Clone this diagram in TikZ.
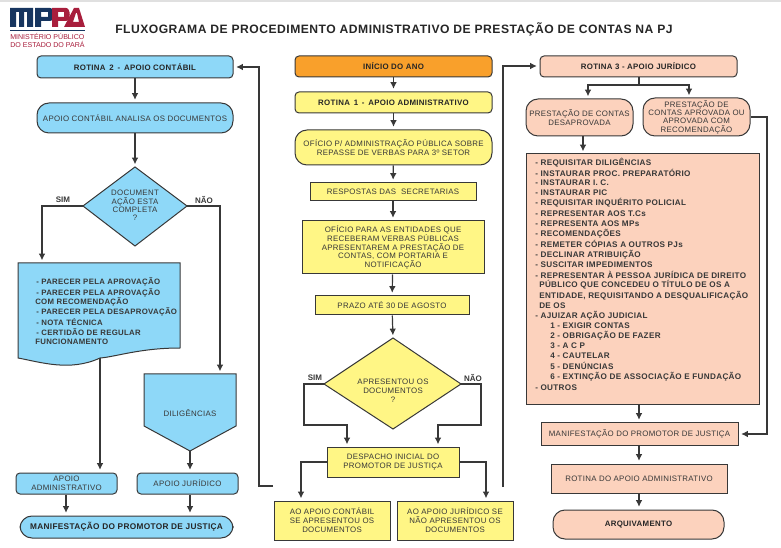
\documentclass[tikz,border=0pt]{standalone}
\usepackage{fontspec}
\setmainfont{Liberation Sans}
\newfontfamily\spc[LetterSpace=4]{Liberation Sans}
\newfontfamily\ttl[LetterSpace=4]{Liberation Sans}
\usetikzlibrary{arrows.meta}
\definecolor{blu}{HTML}{8ED8F8}
\definecolor{yel}{HTML}{FFF685}
\definecolor{ora}{HTML}{F9A02B}
\definecolor{pch}{HTML}{FCD2BD}
\definecolor{ink}{HTML}{383838}
\definecolor{dark}{HTML}{262626}
\definecolor{navy}{HTML}{17355F}
\definecolor{crim}{HTML}{A81E3C}
\tikzset{
  box/.style={draw=ink,line width=.75pt,inner sep=0pt,align=center,text=ink,font=\spc\fontsize{5.9}{6.7}\selectfont},
  rbox/.style={box,rounded corners=3pt},
  pill/.style={box,rounded corners=9pt},
  hd/.style={font=\spc\bfseries\fontsize{5.9}{6.7}\selectfont,text=dark},
  conn/.style={draw=ink,line width=.9pt},
  arr/.style={conn,-{Latex[length=5pt,width=5pt]},shorten >=2pt},
  lab/.style={text=ink,font=\bfseries\fontsize{6}{7}\selectfont,inner sep=0pt},
  txt/.style={text=ink,inner sep=0pt,align=center,font=\spc\fontsize{5.9}{6.7}\selectfont},
  lst/.style={text=ink,inner sep=0pt,anchor=west,font=\spc\bfseries\fontsize{5.85}{6.7}\selectfont},
  lsr/.style={lst,font=\spc\bfseries\fontsize{6.1}{6.7}\selectfont},
}
\newcommand{\bx}[8][box]{\node[#1,fill=#2,minimum width=#5*0.75pt-#4*0.75pt,minimum height=#7*0.75pt-#6*0.75pt] (#3) at ({(#4+#5)/2},{(#6+#7)/2}) {#8};}
\begin{document}
\begin{tikzpicture}[x=0.75pt,y=-0.75pt]
\useasboundingbox (0,0) rectangle (781,548);
\fill[black!12] (0,0) rectangle (781,2);
% logo
\fill[navy] (10,8) -- (33,8) -- (33,27) -- (27,27) -- (27,12) -- (24,12) -- (24,27) -- (19,27) -- (19,12) -- (16,12) -- (16,27) -- (10,27) -- cycle;
\fill[navy,even odd rule] (35,8) -- (50,8) .. controls (55,8) and (55,21) .. (50,21) -- (41,21) -- (41,27) -- (35,27) -- cycle (41,12) rectangle (48,17);
\fill[crim,even odd rule] (52,8) -- (66,8) .. controls (71,8) and (71,21) .. (66,21) -- (58,21) -- (58,27) -- (52,27) -- cycle (58,12) rectangle (64,17);
\fill[crim,even odd rule] (64,27) -- (74,8) -- (79,8) -- (85,27) -- cycle (73,22) -- (79,22) -- (77,13) -- (76,13) -- cycle;
\draw[navy,line width=.5pt] (10,30) -- (85,30);
\node[text=crim,inner sep=0pt,anchor=west,font=\fontsize{5.3}{6}\selectfont] (lg1) at (10,36) {MINISTÉRIO PÚBLICO};
\node[text=crim,inner sep=0pt,anchor=west,font=\fontsize{5.3}{6}\selectfont] (lg2) at (10,44) {DO ESTADO DO PARÁ};
\node[text=dark,inner sep=0pt,anchor=west,font=\ttl\bfseries\fontsize{9.1}{10}\selectfont] (title) at (115,29) {FLUXOGRAMA DE PROCEDIMENTO ADMINISTRATIVO DE PRESTAÇÃO DE CONTAS NA PJ};
% left
\bx[rbox,hd]{blu}{r2}{37}{233}{56}{78}{ROTINA\, 2 \,-\, APOIO CONTÁBIL}
\bx[pill]{blu}{ac}{37}{233}{103}{133}{APOIO CONTÁBIL ANALISA OS DOCUMENTOS}
\path[box,fill=blu] (135,167) coordinate (d1t) -- (187,206) coordinate (d1r) -- (135,246) coordinate (d1b) -- (83,206) coordinate (d1l) -- cycle;
\node[txt,font=\spc\fontsize{5.9}{6.3}\selectfont] (d1) at (135,205.5) {DOCUMENT\\AÇÃO ESTA\\COMPLETA\\?};
\node[lab] (s1) at (63,200) {SIM};
\node[lab] (n1) at (204,200) {NÃO};
\path[box,fill=blu] (18,263) coordinate (doct) -- (180,263) -- (180,348) .. controls (140,348) and (115,357) .. (100,358) coordinate (docb) .. controls (70,372) and (40,362) .. (18,358) -- cycle;
\coordinate (docin) at (42,263);
\foreach \t/\y/\x in {{- PARECER PELA APROVAÇÃO}/282/36,{- PARECER PELA APROVAÇÃO}/292.5/36,{COM RECOMENDAÇÃO}/301.5/35,{- PARECER PELA DESAPROVAÇÃO}/311.5/36,{- NOTA TÉCNICA}/322.5/36,{- CERTIDÃO DE REGULAR}/332.5/36,{FUNCIONAMENTO}/342/35}
  \node[lst] at (\x,\y) {\t};
\path[box,fill=blu] (144,374) -- (190,374) coordinate (ptt0) -- (236,374) -- (236,426) -- (190,451) coordinate (ptb) -- (144,426) -- cycle;
\coordinate (ptin) at (220,374);
\node[txt] (dil) at (190,413) {DILIGÊNCIAS};
\bx[rbox]{blu}{aa}{16}{117}{473}{494}{APOIO\\ADMINISTRATIVO}
\bx[rbox]{blu}{aj}{137}{238}{473}{494}{APOIO JURÍDICO}
\bx[pill,hd]{blu}{mp}{20}{233}{516}{538}{\fontsize{6.2}{7}\selectfont MANIFESTAÇÃO DO PROMOTOR DE JUSTIÇA}
\draw[arr] (r2) -- (ac);
\draw[arr] (ac) -- (d1t);
\draw[arr] (d1l) -| (docin);
\draw[arr] (d1r) -| (ptin);
\draw[arr] (docb) -- (aa.north -| docb);
\draw[arr] (ptb) -- (ptb |- aj.north);
\draw[arr] (aa.south -| 66,0) -- (mp.north -| 66,0);
\draw[arr] (aj.south -| 190,0) -- (mp.north -| 190,0);
\coordinate (bk) at (273,486);
\coordinate (bkc) at (259,486);
\draw[arr] (bk) -- (bkc) |- (r2.east);
% middle
\bx[rbox,hd]{ora}{ini}{295}{492}{56}{77}{INÍCIO DO ANO}
\bx[rbox,hd]{yel}{r1}{295}{492}{92}{113}{ROTINA\, 1 \,-\, APOIO ADMINISTRATIVO}
\bx[pill]{yel}{of}{295}{492}{130}{165}{OFÍCIO P/ ADMINISTRAÇÃO PÚBLICA SOBRE\\REPASSE DE VERBAS PARA 3º SETOR}
\bx{yel}{re}{310}{476}{183}{201}{RESPOSTAS DAS \ SECRETARIAS}
\bx[box,font=\spc\fontsize{5.9}{6.5}\selectfont]{yel}{oe}{302}{484}{221}{274}{OFÍCIO PARA AS ENTIDADES QUE\\RECEBERAM VERBAS PÚBLICAS\\APRESENTAREM A PRESTAÇÃO DE\\CONTAS, COM PORTARIA E\\NOTIFICAÇÃO}
\bx{yel}{pr}{315}{469}{296}{315}{PRAZO ATÉ 30 DE AGOSTO}
\path[box,fill=yel] (393,338) coordinate (d2t) -- (461,384) coordinate (d2r) -- (393,429) coordinate (d2b) -- (324,384) coordinate (d2l) -- cycle;
\node[txt] (d2) at (393,391) {APRESENTOU OS\\DOCUMENTOS\\?};
\node[lab] (s2) at (315,378) {SIM};
\node[lab] (n2) at (473,378) {NÃO};
\bx{yel}{de}{327}{459}{447}{477}{DESPACHO INICIAL DO\\PROMOTOR DE JUSTIÇA}
\bx{yel}{c1}{274}{390}{501}{540}{AO APOIO CONTÁBIL\\SE APRESENTOU OS\\DOCUMENTOS}
\bx{yel}{c2}{397}{513}{501}{540}{AO APOIO JURÍDICO SE\\NÃO APRESENTOU OS\\DOCUMENTOS}
\draw[arr] (ini) -- (r1);
\draw[arr] (r1) -- (of);
\draw[arr] (of) -- (re);
\draw[arr] (re) -- (oe);
\draw[arr] (oe) -- (pr);
\draw[arr] (pr) -- (d2t);
\draw[arr] (d2l) -- (304,384) -- (304,425) -- (347,425) -- (347,447);
\draw[arr] (d2r) -- (481,384) -- (481,425) -- (438,425) -- (438,447);
\draw[arr] (de.west) -| (301,501);
\draw[arr] (de.east) -| (486,501);
\coordinate (fw) at (503,487);
\coordinate (fwc) at (503,66);
% right
\bx[rbox,hd]{pch}{r3}{540}{737}{56}{77}{ROTINA 3 - APOIO JURÍDICO}
\bx[pill,font=\spc\fontsize{5.9}{7}\selectfont]{pch}{pd}{526}{633}{99}{136}{PRESTAÇÃO DE CONTAS\\DESAPROVADA}
\bx[pill,font=\spc\fontsize{5.9}{6.3}\selectfont]{pch}{pa}{643}{750}{98}{136}{PRESTAÇÃO DE\\CONTAS APROVADA OU\\APROVADA COM\\RECOMENDAÇÃO}
\bx{pch}{ls}{526}{759}{154}{405}{}
\foreach \t/\y/\x in {{- REQUISITAR DILIGÊNCIAS}/163/535,{- INSTAURAR PROC. PREPARATÓRIO}/173/535,{- INSTAURAR I. C.}/183/535,{- INSTAURAR PIC}/193/535,{- REQUISITAR INQUÉRITO POLICIAL}/203/535,{- REPRESENTAR AOS T.Cs}/214/535,{- REPRESENTA AOS MPs}/224/535,{- RECOMENDAÇÕES}/234/535,{- REMETER CÓPIAS A OUTROS PJs}/244/535,{- DECLINAR ATRIBUIÇÃO}/255/535,{- SUSCITAR IMPEDIMENTOS}/265/535,{- REPRESENTAR À PESSOA JURÍDICA DE DIREITO}/275/535,{PÚBLICO QUE CONCEDEU O TÍTULO DE OS A}/285/539,{ENTIDADE, REQUISITANDO A DESQUALIFICAÇÃO}/296/539,{DE OS}/306/539,{- AJUIZAR AÇÃO JUDICIAL}/316/535,{1 - EXIGIR CONTAS}/326/550,{2 - OBRIGAÇÃO DE FAZER}/336/550,{3 - A C P}/346/550,{4 - CAUTELAR}/356/550,{5 - DENÚNCIAS}/366/550,{6 - EXTINÇÃO DE ASSOCIAÇÃO E FUNDAÇÃO}/377/550,{- OUTROS}/388/535}
  \node[lsr] at (\x,\y) {\t};
\bx{pch}{mj}{541}{738}{423}{445}{MANIFESTAÇÃO DO PROMOTOR DE JUSTIÇA}
\bx{pch}{ra}{551}{727}{464}{493}{ROTINA DO APOIO ADMINISTRATIVO}
\bx[pill,hd]{pch}{aq}{553}{724}{510}{539}{ARQUIVAMENTO}
\draw[arr] (fw) -- (fwc) -- (r3.west |- fwc);
\coordinate (j3) at (639,85);
\draw[conn] (r3.south -| j3) -- (j3);
\draw[arr] (j3) -| (588,99);
\draw[arr] (j3) -| (689,98);
\draw[arr] (583,136) -- (583,154);
\coordinate (c3) at (767,117);
\draw[arr] (pa.east |- c3) -- (c3) |- (mj.east);
\draw[arr] (ls.south -| j3) -- (mj.north -| j3);
\draw[arr] (mj.south -| j3) -- (ra.north -| j3);
\draw[arr] (ra.south -| j3) -- (aq.north -| j3);
\end{tikzpicture}
\end{document}
